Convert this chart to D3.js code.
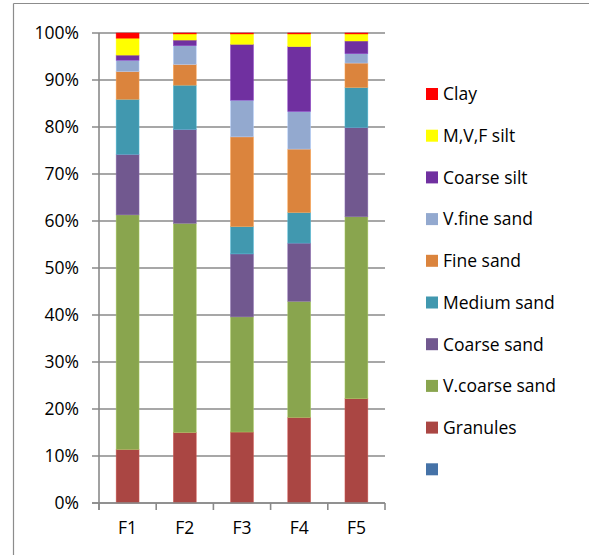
<!DOCTYPE html>
<html>
<head>
<meta charset="utf-8">
<script src="https://cdn.jsdelivr.net/npm/d3@7"></script>
<style>
  html, body { margin: 0; padding: 0; background: #fff; }
  svg { display: block; font-family: "Open Sans", "Liberation Sans", sans-serif; }
</style>
</head>
<body>
<svg id="chart" width="589" height="555"></svg>
<script>
// Sample sites
const categories = ["F1", "F2", "F3", "F4", "F5"];

// Grain-size fractions (% of sample), bottom to top of each stack
const blank        = [0, 0, 0, 0, 0];
const granules     = [11.4, 15.0, 15.1, 18.2, 22.2];
const vCoarseSand  = [49.9, 44.5, 24.5, 24.7, 38.7];
const coarseSand   = [12.9, 20.0, 13.4, 12.4, 19.0];
const mediumSand   = [11.7, 9.4, 5.8, 6.5, 8.5];
const fineSand     = [5.9, 4.4, 19.1, 13.5, 5.2];
const vFineSand    = [2.4, 4.0, 7.8, 8.0, 2.0];
const coarseSilt   = [1.1, 1.2, 11.9, 13.8, 2.7];
const mvfSilt      = [3.6, 1.3, 2.2, 2.7, 1.5];
const clay         = [1.1, 0.2, 0.2, 0.2, 0.2];

const seriesNames  = ["", "Granules", "V.coarse sand", "Coarse sand", "Medium sand",
                      "Fine sand", "V.fine sand", "Coarse silt", "M,V,F silt", "Clay"];
const seriesValues = [blank, granules, vCoarseSand, coarseSand, mediumSand,
                      fineSand, vFineSand, coarseSilt, mvfSilt, clay];
const seriesColors = ["#4572A7", "#AA4643", "#89A54E", "#71588F", "#4198AF",
                      "#DB843D", "#93A9CF", "#7030A0", "#FFFF00", "#FF0000"];
const yTicks = [0, 10, 20, 30, 40, 50, 60, 70, 80, 90, 100];

const FONT_SIZE = 17.5;
const svg = d3.select("#chart");

// Outer frame (top and left edges visible)
svg.append("line").attr("x1", 13.5).attr("x2", 589).attr("y1", 3.5).attr("y2", 3.5)
  .attr("stroke", "#8c8c8c").attr("stroke-width", 1.2);
svg.append("line").attr("x1", 13.5).attr("x2", 13.5).attr("y1", 3.5).attr("y2", 555)
  .attr("stroke", "#8c8c8c").attr("stroke-width", 1.2);

const plot = { left: 99, right: 385, top: 33, bottom: 503 };

const x = d3.scaleBand().domain(categories).range([plot.left, plot.right]).paddingInner(0.6).paddingOuter(0.3);
const xOuter = d3.scaleBand().domain(categories).range([plot.left, plot.right]);
const y = d3.scaleLinear().domain([0, 100]).range([plot.bottom, plot.top]);

// Stack rows: one object per category
const rows = categories.map((c, i) => {
  const r = { cat: c };
  seriesNames.forEach((n, k) => { r["s" + k] = seriesValues[k][i]; });
  return r;
});
const keys = seriesNames.map((n, k) => "s" + k);
const stacked = d3.stack().keys(keys)(rows);

// Horizontal gridlines
svg.append("g").selectAll("line").data(yTicks).join("line")
  .attr("x1", plot.left - 7).attr("x2", plot.right)
  .attr("y1", d => y(d)).attr("y2", d => y(d))
  .attr("stroke", "#8a8a8a").attr("stroke-width", 1.6);

// Y axis labels
svg.append("g").selectAll("text").data(yTicks).join("text")
  .attr("x", 79).attr("y", d => y(d)).attr("dy", "0.36em")
  .attr("text-anchor", "end").attr("font-size", FONT_SIZE).attr("fill", "#000")
  .text(d => d + "%");

// Bars
const gBars = svg.append("g");
stacked.forEach((layer, k) => {
  gBars.append("g").selectAll("rect").data(layer).join("rect")
    .attr("x", d => x(d.data.cat))
    .attr("width", x.bandwidth())
    .attr("y", d => y(d[1]))
    .attr("height", d => Math.max(0, y(d[0]) - y(d[1])))
    .attr("fill", seriesColors[k])
    .attr("stroke", d3.color(seriesColors[k]).brighter(0.6))
    .attr("stroke-width", d => (d[1] - d[0]) > 0 ? 0.6 : 0)
    .attr("stroke-opacity", 0.8);
});

// Y axis line
svg.append("line").attr("x1", plot.left).attr("x2", plot.left)
  .attr("y1", plot.top).attr("y2", plot.bottom + 7)
  .attr("stroke", "#8a8a8a").attr("stroke-width", 1.6);

// X axis line and ticks at category boundaries
svg.append("line").attr("x1", plot.left - 7).attr("x2", plot.right)
  .attr("y1", plot.bottom).attr("y2", plot.bottom)
  .attr("stroke", "#8a8a8a").attr("stroke-width", 1.6);
const boundaries = categories.map(c => xOuter(c)).concat([plot.right]);
svg.append("g").selectAll("line").data(boundaries).join("line")
  .attr("x1", d => d).attr("x2", d => d)
  .attr("y1", plot.bottom).attr("y2", plot.bottom + 7)
  .attr("stroke", "#8a8a8a").attr("stroke-width", 1.6);

// Category labels
svg.append("g").selectAll("text").data(categories).join("text")
  .attr("x", d => x(d) + x.bandwidth() / 2).attr("y", 528).attr("dy", "0.36em")
  .attr("text-anchor", "middle").attr("font-size", FONT_SIZE).attr("fill", "#000")
  .text(d => d);

// Legend (top entry is the last series)
const legendOrder = d3.range(seriesNames.length).reverse();
const legend = svg.append("g").selectAll("g").data(legendOrder).join("g")
  .attr("transform", (d, i) => `translate(426, ${94 + i * 41.7})`);
legend.append("rect").attr("x", 0).attr("y", -6).attr("width", 12).attr("height", 12)
  .attr("fill", d => seriesColors[d]);
legend.append("text").attr("x", 17).attr("y", 0).attr("dy", "0.36em")
  .attr("font-size", FONT_SIZE).attr("fill", "#000")
  .text(d => seriesNames[d]);
</script>
</body>
</html>
